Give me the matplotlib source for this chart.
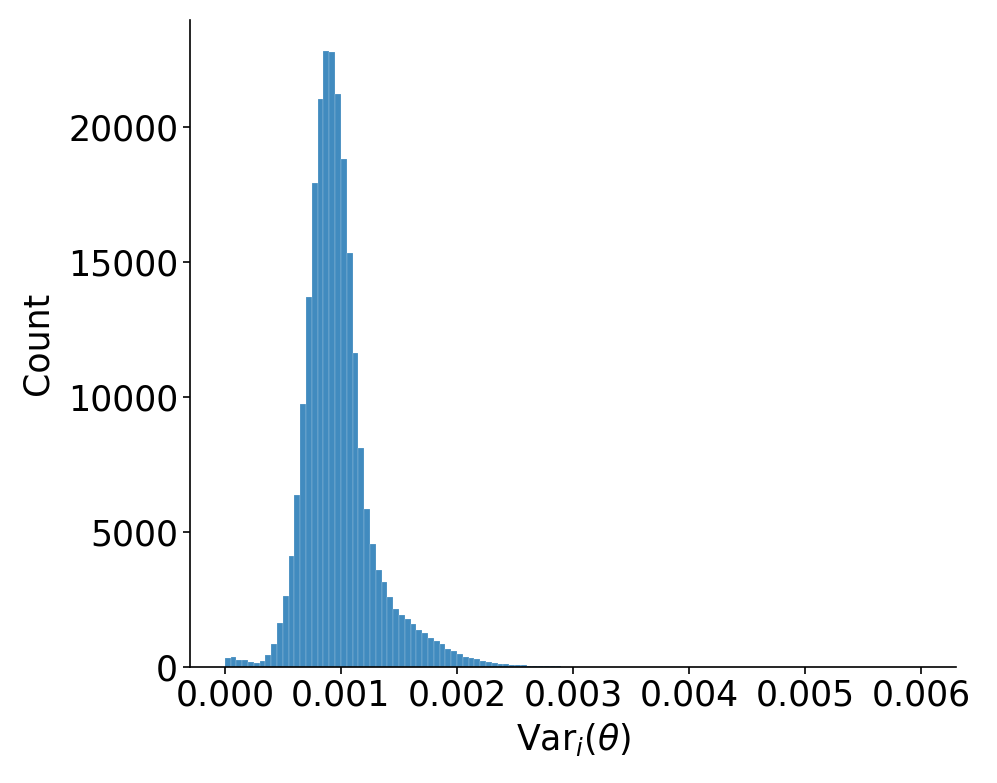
import numpy as np
import matplotlib
matplotlib.use("Agg")
import matplotlib.pyplot as plt

# histogram of Var_i(theta), bins of width 5e-5 starting at 0
bin_width = 0.00005
counts = [
    350, 365, 260, 258, 185, 155, 230, 455, 835, 1620,
    2620, 4120, 6370, 9750, 13700, 17920, 21030, 22820, 22780, 21220,
    18830, 15330, 11630, 8110, 5840, 4570, 3600, 3150, 2600, 2165,
    1940, 1770, 1585, 1360, 1250, 1076, 965, 841, 656, 606,
    470, 360, 334, 285, 223, 173, 136, 124, 99, 80,
    68, 58, 50, 42, 37, 30, 25, 22, 18, 15,
    12, 10, 8, 6, 5, 4, 3, 3, 2, 2,
    2, 1, 1, 1, 1, 1, 0, 1, 0, 0,
    0, 1, 0, 0, 0, 0, 0, 0, 0, 0,
    0, 0, 0, 0, 0, 0, 0, 0, 0, 0,
    0, 0, 0, 0, 0, 0, 0, 0, 0, 0,
    0, 0, 0, 0, 0, 0, 0, 0, 0, 1,
]
xticks = [0.000, 0.001, 0.002, 0.003, 0.004, 0.005, 0.006]
yticks = [0, 5000, 10000, 15000, 20000]

counts = np.array(counts)
left_edges = np.arange(len(counts)) * bin_width

fig = plt.figure(figsize=(9.97, 7.83), dpi=100)
ax = fig.add_axes([0.1906, 0.1481, 0.7683, 0.8264])

ax.bar(left_edges, counts, width=bin_width, align="edge",
       color="#1f77b4", alpha=0.85, edgecolor="white", linewidth=0.15)

ax.set_xlim(-0.0003, 0.0063)
ax.set_ylim(0, counts.max() * 1.05)
ax.set_xticks(xticks)
ax.set_xticklabels([f"{v:.3f}" for v in xticks])
ax.set_yticks(yticks)

ax.spines["top"].set_visible(False)
ax.spines["right"].set_visible(False)
ax.tick_params(labelsize=25, length=5, width=1.2)
for s in ["left", "bottom"]:
    ax.spines[s].set_linewidth(1.2)

ax.set_xlabel(r"Var$_i$($\theta$)", fontsize=25, labelpad=6)
ax.set_ylabel("Count", fontsize=25, labelpad=10)

fig.savefig("out.png", dpi=100)
